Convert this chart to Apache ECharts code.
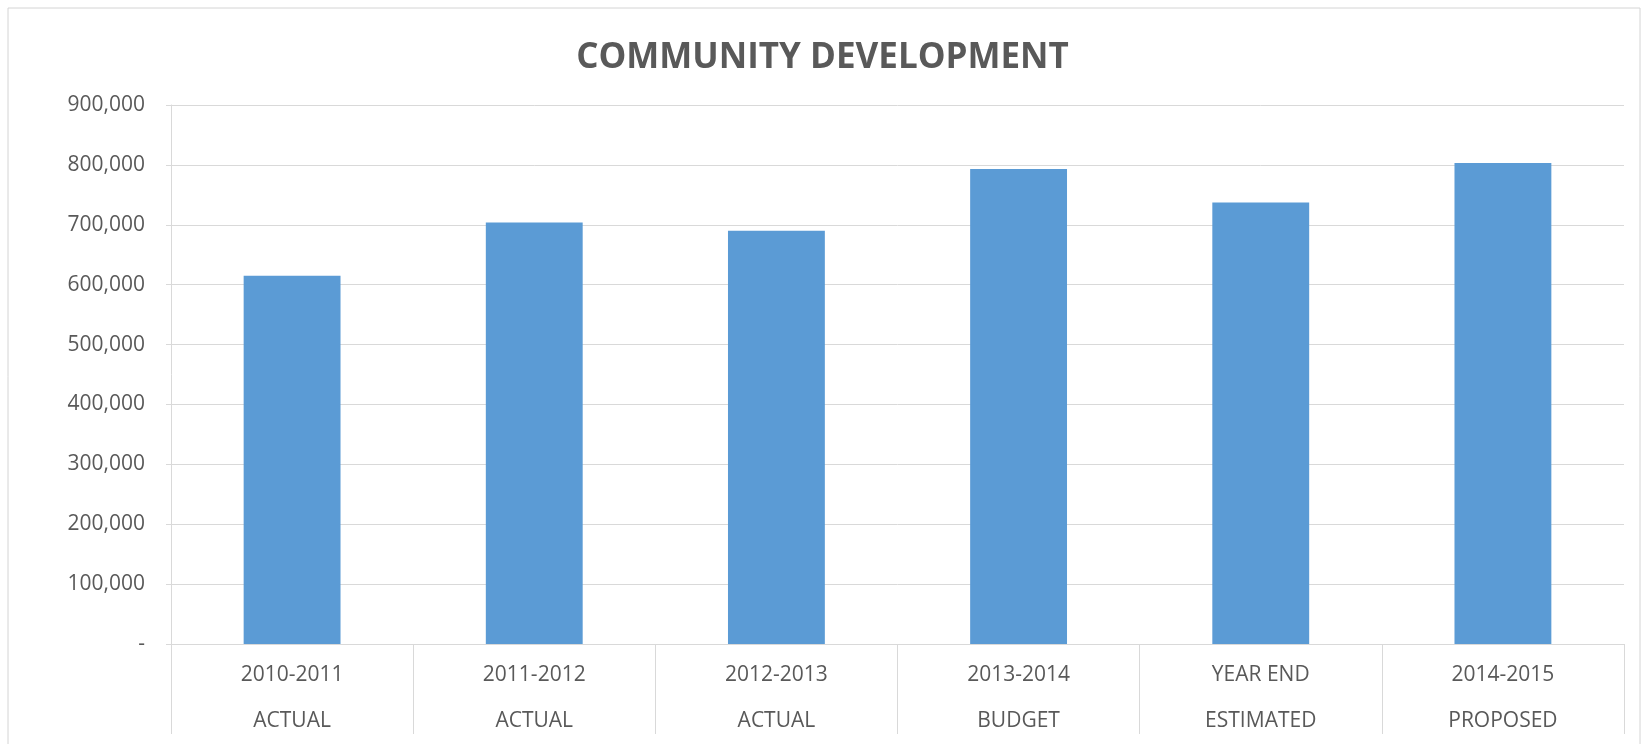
<!DOCTYPE html>
<html>
<head>
<meta charset="utf-8">
<title>Community Development</title>
<script src="https://cdn.jsdelivr.net/npm/echarts@6/dist/echarts.min.js"></script>
<style>
    html, body { margin: 0; padding: 0; background: #fff; }
    #main { width: 1645px; height: 744px; }
</style>
</head>
<body>
<div id="main"></div>
<script>
// 数据
var years = ['2010-2011', '2011-2012', '2012-2013', '2013-2014', 'YEAR END', '2014-2015'];
var stages = ['ACTUAL', 'ACTUAL', 'ACTUAL', 'BUDGET', 'ESTIMATED', 'PROPOSED'];
var amounts = [615000, 704000, 690000, 793000, 737000, 803000];

var xAxisData = [];
for (var i = 0; i < years.length; i++) {
    xAxisData.push(years[i] + '\n' + stages[i]);
}

var lineColor = '#d9d9d9';
var textColor = '#595959';

var option = {
    animation: false,
    textStyle: {
        fontFamily: '"Open Sans", sans-serif'
    },
    title: {
        text: 'COMMUNITY DEVELOPMENT',
        left: 'center',
        top: 36,
        textStyle: {
            color: textColor,
            fontSize: 35,
            fontWeight: 'bold',
            fontFamily: '"Open Sans", sans-serif'
        }
    },
    // 外边框
    graphic: [{
        type: 'rect',
        shape: { x: 8, y: 8, width: 1632, height: 760 },
        style: { fill: 'none', stroke: '#d4d4d4', lineWidth: 1 },
        silent: true
    }],
    grid: {
        left: 171,
        right: 21,
        top: 105,
        bottom: 100
    },
    xAxis: {
        type: 'category',
        data: xAxisData,
        axisLine: {
            lineStyle: { color: lineColor }
        },
        axisTick: {
            show: true,
            length: 90,
            lineStyle: { color: lineColor }
        },
        axisLabel: {
            color: textColor,
            fontSize: 21,
            lineHeight: 46,
            margin: 8,
            interval: 0
        }
    },
    yAxis: {
        type: 'value',
        min: 0,
        max: 900000,
        interval: 100000,
        axisLine: {
            show: true,
            lineStyle: { color: lineColor }
        },
        axisTick: {
            show: true,
            length: 5,
            lineStyle: { color: lineColor }
        },
        splitLine: {
            lineStyle: { color: lineColor }
        },
        axisLabel: {
            color: textColor,
            fontSize: 21,
            margin: 26,
            formatter: function (value) {
                if (value === 0) {
                    return '-';
                }
                return value.toString().replace(/\B(?=(\d{3})+(?!\d))/g, ',');
            }
        }
    },
    series: [
        {
            name: 'COMMUNITY DEVELOPMENT',
            type: 'bar',
            barWidth: '40%',
            itemStyle: {
                color: '#5b9bd5'
            },
            data: amounts
        }
    ]
};

var chart = echarts.init(document.getElementById('main'));
chart.setOption(option);
</script>
</body>
</html>
